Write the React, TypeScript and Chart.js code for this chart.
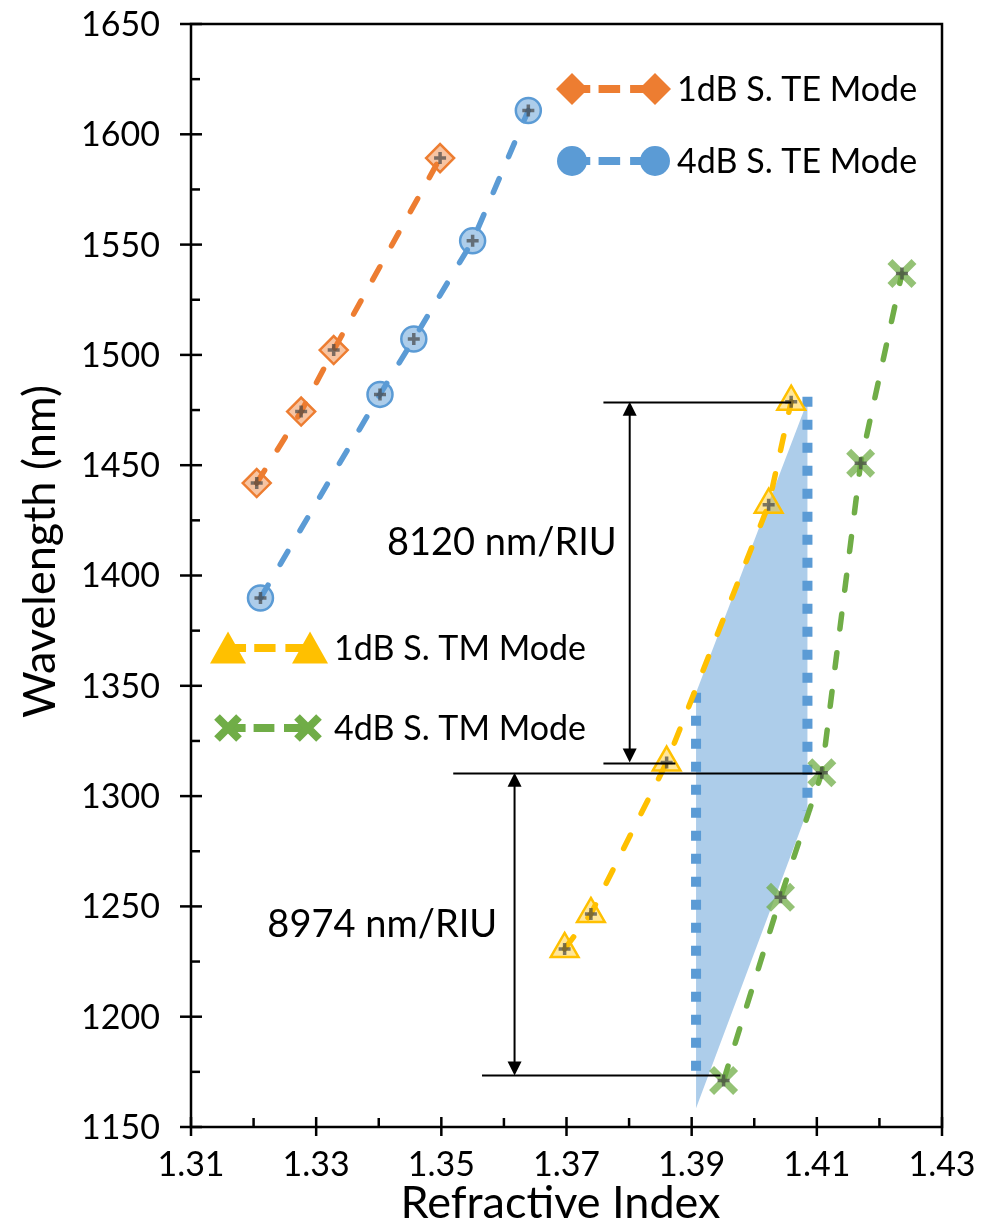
import React, { useEffect, useRef } from 'react';
import { Chart, registerables } from 'chart.js';

Chart.register(...registerables);

// ---- data ----
const te1dbX = [1.3205, 1.3276, 1.3328, 1.3498];
const te1dbY = [1441.9, 1474.3, 1502.2, 1589.2];
const te4dbX = [1.3211, 1.3402, 1.3456, 1.355, 1.3639];
const te4dbY = [1389.8, 1482.1, 1507.2, 1551.7, 1610.8];
const tm1dbX = [1.3697, 1.3739, 1.386, 1.4023, 1.4059];
const tm1dbY = [1230.7, 1246.6, 1315.2, 1432.1, 1478.8];
const tm4dbX = [1.3951, 1.4042, 1.4108, 1.417, 1.4236];
const tm4dbY = [1171.1, 1254.1, 1310.6, 1450.9, 1536.9];

const seriesNames = ['1dB S. TE Mode', '4dB S. TE Mode', '1dB S. TM Mode', '4dB S. TM Mode'];

// shaded operating band
const bandX = [1.4085, 1.3907, 1.3907, 1.4085];
const bandY = [1479, 1346.8, 1158.5, 1293.3];
const dotLeftX = [1.3907, 1.3907];
const dotLeftY = [1346.8, 1169.7];
const dotRightX = [1.4085, 1.4085];
const dotRightY = [1481, 1293.3];

// sensitivity annotations
const sensLabels = ['8120 nm/RIU', '8974 nm/RIU'];
const sensLabelX = [1.3413, 1.3222];
const sensLabelY = [1414.8, 1241.7];
const arrowX = [1.3801, 1.3617];
const arrowTopY = [1478.8, 1310.6];
const arrowBottomY = [1315.2, 1173.4];
const refLineY = [1478.8, 1315.2, 1310.6, 1173.4];
const refLineX1 = [1.3759, 1.3759, 1.3519, 1.3565];
const refLineX2 = [1.4059, 1.3874, 1.4108, 1.3946];

// axes
const xTicks = [1.31, 1.33, 1.35, 1.37, 1.39, 1.41, 1.43];
const xTickLabels = ['1.31', '1.33', '1.35', '1.37', '1.39', '1.41', '1.43'];
const yTicks = [1150, 1200, 1250, 1300, 1350, 1400, 1450, 1500, 1550, 1600, 1650];
const yTickLabels = ['1150', '1200', '1250', '1300', '1350', '1400', '1450', '1500', '1550', '1600', '1650'];
const xTitle = 'Refractive Index';
const yTitle = 'Wavelength (nm)';

const FONT = 'Lato, "Open Sans", sans-serif';
const ORANGE = '#ED7D31';
const BLUE = '#5B9BD5';
const YELLOW = '#FFC000';
const GREEN = '#70AD47';

const pts = (xs: number[], ys: number[]) => xs.map((x, i) => ({ x, y: ys[i] }));

function markerPath(ctx: CanvasRenderingContext2D, style: string, x: number, y: number, r: number) {
  ctx.beginPath();
  if (style === 'diamond') {
    ctx.moveTo(x, y - r);
    ctx.lineTo(x + r, y);
    ctx.lineTo(x, y + r);
    ctx.lineTo(x - r, y);
    ctx.closePath();
  } else if (style === 'circle') {
    ctx.arc(x, y, r, 0, Math.PI * 2);
  } else if (style === 'triangle') {
    const h = r * 1.732;
    ctx.moveTo(x, y - h / 2 - 1);
    ctx.lineTo(x + r, y + h / 2);
    ctx.lineTo(x - r, y + h / 2);
    ctx.closePath();
  } else if (style === 'x') {
    ctx.moveTo(x - r, y - r);
    ctx.lineTo(x + r, y + r);
    ctx.moveTo(x + r, y - r);
    ctx.lineTo(x - r, y + r);
  }
}

function drawLegendEntry(
  ctx: CanvasRenderingContext2D,
  style: string,
  color: string,
  x1: number,
  x2: number,
  y: number,
  text: string,
  textX: number
) {
  ctx.save();
  ctx.strokeStyle = color;
  ctx.lineWidth = 8;
  ctx.lineCap = 'butt';
  const L = x2 - x1;
  const segs = [
    [0, 0.22],
    [0.32, 0.58],
    [0.7, 1],
  ];
  segs.forEach(([a, b]) => {
    ctx.beginPath();
    ctx.moveTo(x1 + a * L, y);
    ctx.lineTo(x1 + b * L, y);
    ctx.stroke();
  });
  [x1, x2].forEach((mx) => {
    if (style === 'x') {
      ctx.lineWidth = 8;
      markerPath(ctx, 'x', mx, y, 11);
      ctx.stroke();
    } else {
      ctx.fillStyle = color;
      const r = style === 'diamond' ? 16 : style === 'circle' ? 15 : 18;
      markerPath(ctx, style, mx, y, r);
      ctx.fill();
    }
  });
  ctx.fillStyle = '#000';
  ctx.font = `34px ${FONT}`;
  ctx.textAlign = 'left';
  ctx.textBaseline = 'middle';
  ctx.fillText(text, textX, y + 1);
  ctx.restore();
}

const decorPlugin = {
  id: 'decor',
  afterDatasetsDraw(chart: any) {
    const { ctx, chartArea: a } = chart;
    const xs = chart.scales.x;
    const ys = chart.scales.y;
    ctx.save();
    // small dark error crosses in data markers
    for (let i = 0; i < 4; i++) {
      const meta = chart.getDatasetMeta(i);
      meta.data.forEach((p: any) => {
        ctx.strokeStyle = 'rgba(70,70,70,0.7)';
        ctx.lineWidth = 3.5;
        ctx.beginPath();
        ctx.moveTo(p.x - 6, p.y);
        ctx.lineTo(p.x + 6, p.y);
        ctx.moveTo(p.x, p.y - 6);
        ctx.lineTo(p.x, p.y + 6);
        ctx.stroke();
      });
    }

    // reference lines
    ctx.strokeStyle = '#000';
    ctx.fillStyle = '#000';
    ctx.lineWidth = 2;
    refLineY.forEach((v, i) => {
      const py = Math.round(ys.getPixelForValue(v)) + 0.5;
      ctx.beginPath();
      ctx.moveTo(xs.getPixelForValue(refLineX1[i]), py);
      ctx.lineTo(xs.getPixelForValue(refLineX2[i]), py);
      ctx.stroke();
    });
    // double arrows
    arrowX.forEach((v, i) => {
      const px = xs.getPixelForValue(v);
      const t = ys.getPixelForValue(arrowTopY[i]);
      const b = ys.getPixelForValue(arrowBottomY[i]);
      const ah = 14;
      const aw = 7;
      ctx.beginPath();
      ctx.moveTo(px, t + ah - 1);
      ctx.lineTo(px, b - ah + 1);
      ctx.stroke();
      ctx.beginPath();
      ctx.moveTo(px, t);
      ctx.lineTo(px + aw, t + ah);
      ctx.lineTo(px - aw, t + ah);
      ctx.closePath();
      ctx.fill();
      ctx.beginPath();
      ctx.moveTo(px, b);
      ctx.lineTo(px + aw, b - ah);
      ctx.lineTo(px - aw, b - ah);
      ctx.closePath();
      ctx.fill();
    });
    // labels
    ctx.font = `38px ${FONT}`;
    ctx.textAlign = 'left';
    ctx.textBaseline = 'middle';
    sensLabels.forEach((s, i) => {
      ctx.fillText(s, xs.getPixelForValue(sensLabelX[i]), ys.getPixelForValue(sensLabelY[i]));
    });

    // frame
    ctx.lineWidth = 2.5;
    ctx.strokeRect(a.left, a.top, a.right - a.left, a.bottom - a.top);
    // y ticks
    ctx.font = `34px ${FONT}`;
    yTicks.forEach((v, i) => {
      const py = ys.getPixelForValue(v);
      ctx.beginPath();
      ctx.moveTo(a.left - 11, py);
      ctx.lineTo(a.left + 11, py);
      ctx.stroke();
      ctx.textAlign = 'right';
      ctx.textBaseline = 'middle';
      ctx.fillText(yTickLabels[i], a.left - 31, py + 1);
      if (i < yTicks.length - 1) {
        const pm = ys.getPixelForValue((v + yTicks[i + 1]) / 2);
        ctx.beginPath();
        ctx.moveTo(a.left, pm);
        ctx.lineTo(a.left + 9, pm);
        ctx.stroke();
      }
    });
    xTicks.forEach((v, i) => {
      const px = xs.getPixelForValue(v);
      ctx.beginPath();
      ctx.moveTo(px, a.bottom - 10);
      ctx.lineTo(px, a.bottom + 9);
      ctx.stroke();
      ctx.textAlign = 'center';
      ctx.textBaseline = 'middle';
      ctx.fillText(xTickLabels[i], px, a.bottom + 38);
      if (i < xTicks.length - 1) {
        const pm = xs.getPixelForValue((v + xTicks[i + 1]) / 2);
        ctx.beginPath();
        ctx.moveTo(pm, a.bottom);
        ctx.lineTo(pm, a.bottom - 9);
        ctx.stroke();
      }
    });

    // axis titles
    ctx.fillStyle = '#000';
    ctx.font = `45px ${FONT}`;
    ctx.textAlign = 'center';
    ctx.textBaseline = 'middle';
    ctx.fillText(xTitle, (a.left + a.right) / 2 - 6, 1203);
    ctx.save();
    ctx.translate(40, (a.top + a.bottom) / 2 - 24);
    ctx.rotate(-Math.PI / 2);
    ctx.fillText(yTitle, 0, 0);
    ctx.restore();

    // legends
    drawLegendEntry(ctx, 'diamond', ORANGE, 572, 655, 89, seriesNames[0], 677);
    drawLegendEntry(ctx, 'circle', BLUE, 572, 655, 161, seriesNames[1], 677);
    drawLegendEntry(ctx, 'triangle', YELLOW, 228, 310, 648, seriesNames[2], 334);
    drawLegendEntry(ctx, 'x', GREEN, 228, 308, 728, seriesNames[3], 334);
    ctx.restore();
  },
};

export default function App() {
  const ref = useRef<HTMLCanvasElement | null>(null);
  useEffect(() => {
    document.body.style.margin = '0';
    const canvas = ref.current!;
    const lineCommon = {
      showLine: true,
      borderWidth: 5.5,
      borderDash: [15, 24],
      borderCapStyle: 'round',
      pointBorderWidth: 2.5,
      order: 0,
    };
    const chart = new Chart(canvas, {
      type: 'scatter',
      data: {
        datasets: [
          {
            ...lineCommon,
            label: seriesNames[0],
            data: pts(te1dbX, te1dbY),
            borderColor: ORANGE,
            backgroundColor: ORANGE,
            pointStyle: 'rectRot',
            pointRadius: 14,
            pointBackgroundColor: 'rgba(237,125,49,0.45)',
            pointBorderColor: ORANGE,
          },
          {
            ...lineCommon,
            label: seriesNames[1],
            data: pts(te4dbX, te4dbY),
            borderColor: BLUE,
            backgroundColor: BLUE,
            pointStyle: 'circle',
            pointRadius: 12.5,
            pointBackgroundColor: 'rgba(91,155,213,0.5)',
            pointBorderColor: BLUE,
          },
          {
            ...lineCommon,
            label: seriesNames[2],
            data: pts(tm1dbX, tm1dbY),
            borderColor: YELLOW,
            backgroundColor: YELLOW,
            pointStyle: 'triangle',
            pointRadius: 16,
            pointBackgroundColor: 'rgba(255,192,0,0.4)',
            pointBorderColor: YELLOW,
          },
          {
            ...lineCommon,
            label: seriesNames[3],
            data: pts(tm4dbX, tm4dbY),
            borderColor: GREEN,
            backgroundColor: GREEN,
            pointStyle: 'crossRot',
            pointRadius: 17,
            pointBorderWidth: 7,
            pointBorderColor: 'rgba(112,173,71,0.75)',
          },
          {
            label: 'dotLeft',
            data: pts(dotLeftX, dotLeftY),
            showLine: true,
            borderColor: BLUE,
            borderWidth: 10,
            borderDash: [10, 13],
            borderCapStyle: 'butt',
            pointRadius: 0,
            order: 5,
          },
          {
            label: 'dotRight',
            data: pts(dotRightX, dotRightY),
            showLine: true,
            borderColor: BLUE,
            borderWidth: 10,
            borderDash: [10, 13],
            borderCapStyle: 'butt',
            pointRadius: 0,
            order: 5,
          },
          {
            label: 'band',
            data: pts(bandX, bandY),
            showLine: true,
            borderWidth: 0,
            borderColor: 'rgba(0,0,0,0)',
            backgroundColor: 'rgba(91,155,213,0.5)',
            fill: 'shape',
            pointRadius: 0,
            order: 10,
          },
        ],
      },
      options: {
        responsive: false,
        animation: false,
        devicePixelRatio: 1,
        layout: { padding: { top: 22, right: 45, left: 0, bottom: 0 } },
        plugins: { legend: { display: false }, tooltip: { enabled: false } },
        scales: {
          x: {
            type: 'linear',
            min: 1.31,
            max: 1.43,
            afterBuildTicks: (s: any) => {
              s.ticks = xTicks.map((v) => ({ value: v }));
            },
            afterFit: (s: any) => {
              s.height = 100;
            },
            grid: { display: false, drawTicks: false },
            border: { display: false },
            ticks: { display: false, padding: 0 },
          },
          y: {
            type: 'linear',
            min: 1150,
            max: 1650,
            afterBuildTicks: (s: any) => {
              s.ticks = yTicks.map((v) => ({ value: v }));
            },
            afterFit: (s: any) => {
              s.width = 191;
            },
            grid: { display: false, drawTicks: false },
            border: { display: false },
            ticks: { display: false, padding: 0 },
          },
        },
      } as any,
      plugins: [decorPlugin],
    } as any);
    return () => chart.destroy();
  }, []);
  return (
    <div style={{ width: 987, height: 1227 }}>
      <canvas ref={ref} width={987} height={1227} style={{ display: 'block' }} />
    </div>
  );
}
